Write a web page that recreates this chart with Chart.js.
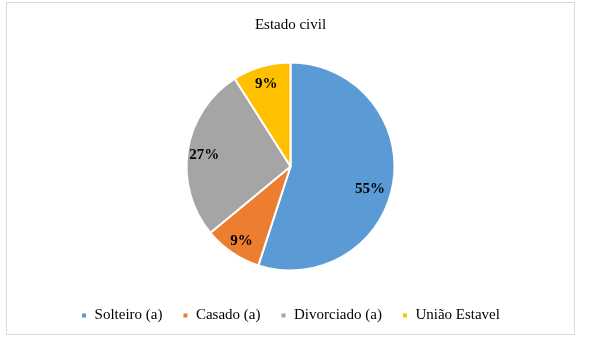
<!DOCTYPE html>
<html>
<head>
<meta charset="utf-8">
<script src="https://cdn.jsdelivr.net/npm/chart.js@4"></script>
<style>
  html, body { margin: 0; padding: 0; background: #fff; }
  #frame {
    position: absolute; left: 6px; top: 2px;
    width: 567px; height: 331px;
    border: 1px solid #d9d9d9;
  }
  #myChart { display: block; }
</style>
</head>
<body>
<div id="frame"><canvas id="myChart" width="567" height="331"></canvas></div>
<script>
// Estado civil - share of each group (%)
const categories = ['Solteiro (a)', 'Casado (a)', 'Divorciado (a)', 'União Estavel'];
const percentages = [55, 9, 27, 9];
const sliceColors = ['#5B9BD5', '#ED7D31', '#A5A5A5', '#FFC000'];

const serif = "'Liberation Serif', 'Times New Roman', serif";

// writes the percentage inside each slice
const sliceLabels = {
    id: 'sliceLabels',
    afterDatasetsDraw(chart) {
        const ctx = chart.ctx;
        const meta = chart.getDatasetMeta(0);
        ctx.save();
        ctx.font = 'bold 15px ' + serif;
        ctx.fillStyle = '#000';
        ctx.textAlign = 'center';
        ctx.textBaseline = 'middle';
        meta.data.forEach(function(arc, i) {
            const p = arc.getProps(['x', 'y', 'startAngle', 'endAngle', 'outerRadius'], true);
            let mid = (p.startAngle + p.endAngle) / 2;
            let r = p.outerRadius * 0.84;
            if (percentages[i] > 50) {
                // big slice: label sits a little lower and further in
                mid += 0.1;
                r = p.outerRadius * 0.79;
            }
            ctx.fillText(percentages[i] + '%', p.x + Math.cos(mid) * r, p.y + Math.sin(mid) * r + 2);
        });
        ctx.restore();
    }
};

const data = {
    labels: categories,
    datasets: [{
        data: percentages,
        backgroundColor: sliceColors,
        borderColor: '#fff',
        borderWidth: 2,
        radius: 104
    }]
};

const config = {
    type: 'pie',
    data: data,
    plugins: [sliceLabels],
    options: {
        responsive: false,
        animation: false,
        layout: { padding: { top: 0, bottom: 1 } },
        plugins: {
            title: {
                display: true,
                text: 'Estado civil',
                color: '#000',
                font: { family: serif, size: 15, weight: 'normal' },
                padding: { top: 13, bottom: 11 }
            },
            legend: {
                position: 'bottom',
                labels: {
                    color: '#000',
                    font: { family: serif, size: 15 },
                    boxWidth: 6,
                    boxHeight: 6,
                    padding: 20
                }
            },
            tooltip: { enabled: false }
        }
    }
};

let myChart = new Chart(document.getElementById('myChart'), config);
</script>
</body>
</html>
